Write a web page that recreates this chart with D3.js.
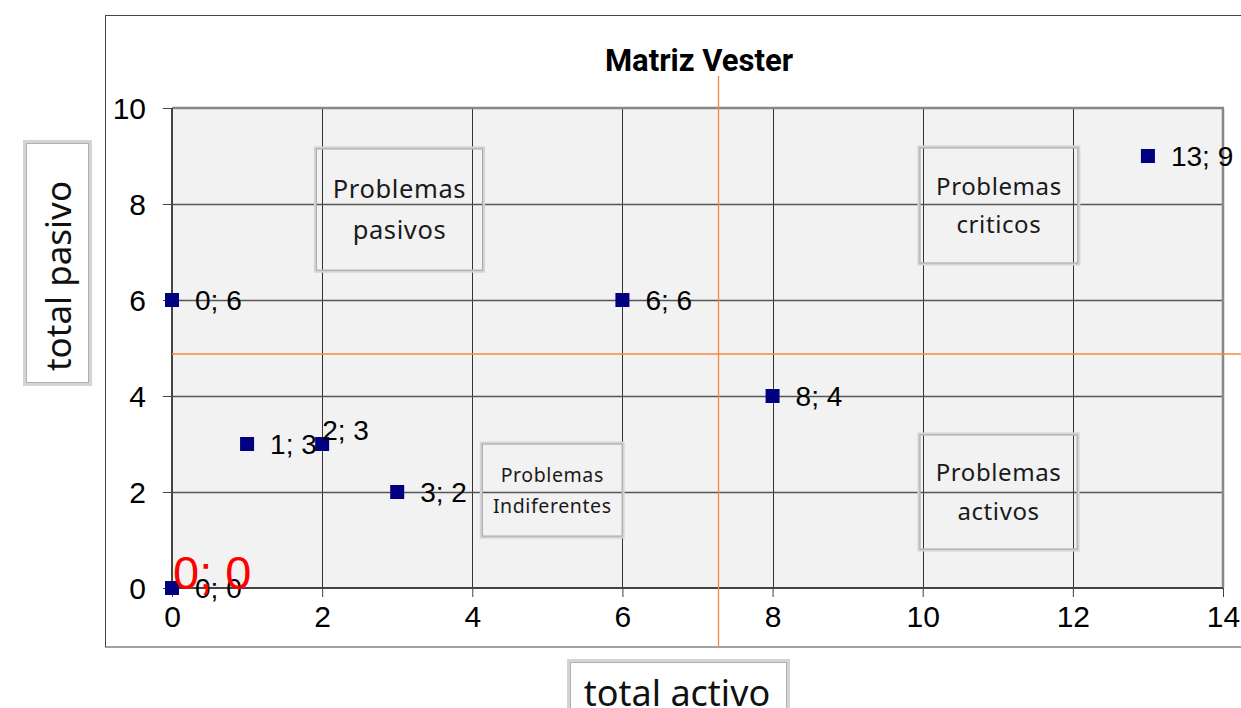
<!DOCTYPE html>
<html>
<head>
<meta charset="utf-8">
<script src="https://cdn.jsdelivr.net/npm/d3@7"></script>
<style>
  html, body { margin: 0; padding: 0; background: #fff; }
  svg { display: block; }
</style>
</head>
<body>
<svg id="chart" width="1241" height="708"></svg>
<script>
// ---- data ----
const title = "Matriz Vester";
const xTitle = "total activo";
const yTitle = "total pasivo";
const activo = [0, 0, 1, 2, 3, 6, 8, 13];
const pasivo = [0, 6, 3, 3, 2, 6, 4, 9];
const xTicks = [0, 2, 4, 6, 8, 10, 12, 14];
const yTicks = [0, 2, 4, 6, 8, 10];
const refActivo = 7.28;   // vertical orange line
const refPasivo = 4.875;  // horizontal orange line
const quadrantNames = [["Problemas", "pasivos"], ["Problemas", "criticos"], ["Problemas", "activos"], ["Problemas", "Indiferentes"]];
const quadrantX0 = [1.91, 9.95, 9.95, 4.12];
const quadrantX1 = [4.15, 12.08, 12.07, 6.01];
const quadrantY0 = [9.17, 9.19, 3.21, 3.02];
const quadrantY1 = [6.60, 6.75, 0.79, 1.06];
const quadrantFont = [25.5, 24, 24, 19.5];
const highlightLabel = "0; 0";

// ---- layout ----
const svg = d3.select("#chart");
const L = 172, R = 1223, T = 108, B = 588;
const x = d3.scaleLinear().domain([0, 14]).range([L, R]);
const y = d3.scaleLinear().domain([0, 10]).range([B, T]);
const sans = "'Liberation Sans', Arial, sans-serif";
const calib = "'Noto Sans', 'Open Sans', sans-serif";

// outer chart frame
svg.append("rect").attr("x", 105.5).attr("y", 15.5).attr("width", 1300).attr("height", 631.5)
  .attr("fill", "#fff").attr("stroke", "#444").attr("stroke-width", 1);

// plot background
svg.append("rect").attr("x", L).attr("y", T).attr("width", R - L).attr("height", B - T)
  .attr("fill", "#f2f2f2");

// grid lines
svg.append("g").selectAll("line").data(xTicks.slice(1, -1)).join("line")
  .attr("x1", d => Math.round(x(d)) + 0.5).attr("x2", d => Math.round(x(d)) + 0.5)
  .attr("y1", T).attr("y2", B).attr("stroke", "#333").attr("stroke-width", 1);
svg.append("g").selectAll("line").data(yTicks.slice(1, -1)).join("line")
  .attr("x1", L).attr("x2", R)
  .attr("y1", d => Math.round(y(d)) + 0.5).attr("y2", d => Math.round(y(d)) + 0.5)
  .attr("stroke", "#555").attr("stroke-width", 1.5);

// plot border
svg.append("line").attr("x1", L).attr("x2", R + 1).attr("y1", T).attr("y2", T).attr("stroke", "#888").attr("stroke-width", 2.5);
svg.append("line").attr("x1", R).attr("x2", R).attr("y1", T).attr("y2", B).attr("stroke", "#888").attr("stroke-width", 2.5);

// axes
const xAxis = d3.axisBottom(x).tickValues(xTicks).tickSize(9).tickPadding(9);
const yAxis = d3.axisLeft(y).tickValues(yTicks).tickSize(9).tickPadding(17);
const gx = svg.append("g").attr("transform", `translate(0,${B})`).call(xAxis);
const gy = svg.append("g").attr("transform", `translate(${L},0)`).call(yAxis);
[gx, gy].forEach(g => {
  g.select(".domain").attr("stroke", "#444").attr("stroke-width", 2);
  g.selectAll(".tick line").attr("stroke", "#444").attr("stroke-width", 1);
  g.selectAll(".tick text").attr("font-family", sans).attr("font-size", 30).attr("fill", "#000");
});
gx.selectAll(".tick text").attr("dy", "0.71em");
gy.selectAll(".tick text").attr("dy", "0.36em");
gx.select(".domain").attr("d", `M${L},0H${R}`);
gy.select(".domain").attr("d", `M0,${B}V${T}`);

// quadrant annotation boxes
const qg = svg.append("g");
quadrantNames.forEach((lines, i) => {
  const bx0 = x(quadrantX0[i]), bx1 = x(quadrantX1[i]);
  const by0 = y(quadrantY0[i]), by1 = y(quadrantY1[i]);
  qg.append("rect").attr("x", bx0).attr("y", by0).attr("width", bx1 - bx0).attr("height", by1 - by0)
    .attr("fill", "none").attr("stroke", "#d4d4d4").attr("stroke-width", 3);
  qg.append("rect").attr("x", bx0 + 1).attr("y", by0 + 1).attr("width", bx1 - bx0 - 2).attr("height", by1 - by0 - 2)
    .attr("fill", "none").attr("stroke", "#a8a8a8").attr("stroke-width", 1);
  const cx = (bx0 + bx1) / 2, cy = (by0 + by1) / 2;
  const fs = quadrantFont[i], lh = fs * 1.6;
  lines.forEach((t, j) => {
    qg.append("text").attr("x", cx).attr("y", cy + (j - (lines.length - 1) / 2) * lh)
      .attr("dy", "0.36em").attr("text-anchor", "middle")
      .attr("font-family", calib).attr("font-size", fs).attr("fill", "#1a1a1a")
      .attr("letter-spacing", 0.6).text(t);
  });
});

// reference lines
svg.append("line").attr("x1", x(refActivo)).attr("x2", x(refActivo))
  .attr("y1", 76).attr("y2", 647).attr("stroke", "#f58a3c").attr("stroke-width", 1.3);
svg.append("line").attr("x1", L).attr("x2", 1241)
  .attr("y1", y(refPasivo)).attr("y2", y(refPasivo)).attr("stroke", "#f58a3c").attr("stroke-width", 1.3);

// points
const pts = activo.map((a, i) => ({ a, p: pasivo[i], label: `${a}; ${pasivo[i]}` }));
svg.append("g").selectAll("rect").data(pts).join("rect")
  .attr("x", d => x(d.a) - 7).attr("y", d => y(d.p) - 7).attr("width", 14).attr("height", 14)
  .attr("fill", "#000080");

// data labels
const aboveLabels = ["2; 3"];
svg.append("g").selectAll("text").data(pts).join("text")
  .attr("x", d => aboveLabels.includes(d.label) ? x(d.a) : x(d.a) + 23)
  .attr("y", d => aboveLabels.includes(d.label) ? y(d.p) - 4 : y(d.p) + 10)
  .attr("font-family", sans).attr("font-size", 28).attr("fill", "#000")
  .text(d => d.label);

// red highlight label
svg.append("text").attr("x", x(0) + 1).attr("y", y(0) + 1)
  .attr("font-family", sans).attr("font-size", 47).attr("fill", "#ff0000").text(highlightLabel);

// title
svg.append("text").attr("x", 699).attr("y", 71).attr("text-anchor", "middle")
  .attr("font-family", "Roboto, sans-serif").attr("font-weight", "bold").attr("font-size", 31)
  .attr("fill", "#000").text(title);

// axis titles with boxes
svg.append("rect").attr("x", 24.5).attr("y", 141.5).attr("width", 66).attr("height", 243)
  .attr("fill", "#fff").attr("stroke", "#d4d4d4").attr("stroke-width", 3);
svg.append("rect").attr("x", 26.5).attr("y", 143.5).attr("width", 62).attr("height", 239)
  .attr("fill", "none").attr("stroke", "#b0b0b0").attr("stroke-width", 1);
svg.append("text").attr("transform", "translate(58,276) rotate(-90)")
  .attr("text-anchor", "middle").attr("dy", "0.36em")
  .attr("font-family", calib).attr("font-size", 35).attr("fill", "#111").text(yTitle);

svg.append("rect").attr("x", 568.5).attr("y", 660.5).attr("width", 220).attr("height", 60)
  .attr("fill", "#fff").attr("stroke", "#d4d4d4").attr("stroke-width", 3);
svg.append("rect").attr("x", 570.5).attr("y", 662.5).attr("width", 216).attr("height", 56)
  .attr("fill", "none").attr("stroke", "#b0b0b0").attr("stroke-width", 1);
svg.append("text").attr("x", 677).attr("y", 706).attr("text-anchor", "middle")
  .attr("font-family", calib).attr("font-size", 36).attr("fill", "#111").text(xTitle);
</script>
</body>
</html>
